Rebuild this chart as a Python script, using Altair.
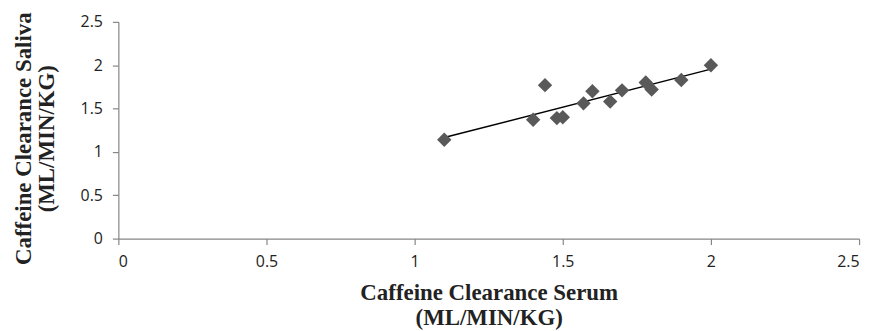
import altair as alt
import pandas as pd

serum = [1.10, 1.40, 1.44, 1.48, 1.50, 1.57, 1.60, 1.66, 1.70, 1.78, 1.80, 1.90, 2.00]
saliva = [1.14, 1.37, 1.77, 1.39, 1.40, 1.56, 1.70, 1.58, 1.71, 1.80, 1.72, 1.83, 2.00]
ticks = [0, 0.5, 1, 1.5, 2, 2.5]

df = pd.DataFrame({"serum": serum, "saliva": saliva})

axis_common = dict(
    grid=False,
    values=ticks,
    format="~g",
    domainColor="#868686",
    tickColor="#868686",
    domainWidth=1.2,
    tickWidth=1.2,
    tickSize=6,
    labelFont="Open Sans",
    labelFontSize=16,
    labelColor="#222222",
    titleFont="Liberation Serif",
    titleFontSize=23,
    titleFontWeight="bold",
    titleColor="#222222",
)

x = alt.X(
    "serum:Q",
    scale=alt.Scale(domain=[0, 2.5], nice=False),
    axis=alt.Axis(
        title=["Caffeine Clearance Serum", "(ML/MIN/KG)"],
        labelPadding=9,
        titleBaseline="alphabetic",
        titleY=61,
        titleLineHeight=25,
        **axis_common,
    ),
)
y = alt.Y(
    "saliva:Q",
    scale=alt.Scale(domain=[0, 2.5], nice=False),
    axis=alt.Axis(
        title=["Caffeine Clearance Saliva", "(ML/MIN/KG)"],
        labelPadding=10,
        titleBaseline="alphabetic",
        titleAngle=-90,
        titleX=-88,
        titleY=117,
        titleLineHeight=23,
        **axis_common,
    ),
)

points = alt.Chart(df).mark_point(
    shape="diamond", filled=True, size=210, color="#595959", opacity=1
).encode(x=x, y=y)

trend = alt.Chart(df).transform_regression("serum", "saliva").mark_line(
    color="#000000", strokeWidth=1.5
).encode(x=x, y=y)

chart = (
    alt.layer(trend, points)
    .properties(
        width=745,
        height=218,
        autosize=alt.AutoSizeParams(type="none"),
        padding={"left": 111, "top": 13, "right": 10, "bottom": 92},
        background="white",
    )
    .configure_view(stroke=None)
)

chart.save("out.html", embed_options={"renderer": "svg", "actions": False})
